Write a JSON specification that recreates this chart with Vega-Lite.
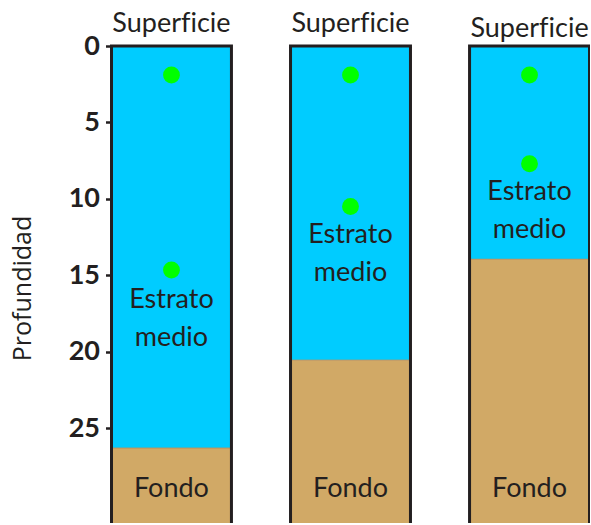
{
  "$schema": "https://vega.github.io/schema/vega-lite/v6.json",
  "width": 478,
  "height": 477,
  "autosize": {"type": "none"},
  "padding": {"left": 111.5, "top": 46, "right": 0, "bottom": 0},
  "background": "white",
  "config": {"view": {"stroke": null}},
  "datasets": {
    "cols": [
      {"col": "1", "surface": 0, "depth": 26.3, "floor": 31.8},
      {"col": "2", "surface": 0, "depth": 20.55, "floor": 31.8},
      {"col": "3", "surface": 0, "depth": 13.95, "floor": 31.8}
    ],
    "dots": [
      {"col": "1", "depth": 1.9},
      {"col": "1", "depth": 14.65},
      {"col": "2", "depth": 1.9},
      {"col": "2", "depth": 10.5},
      {"col": "3", "depth": 1.9},
      {"col": "3", "depth": 7.7}
    ],
    "labels": [
      {"col": "1", "depth": -0.92, "label": "Superf\u200cicie"},
      {"col": "2", "depth": -0.92, "label": "Superf\u200cicie"},
      {"col": "3", "depth": -0.6, "label": "Superf\u200cicie"},
      {"col": "1", "depth": 17.15, "label": "Estrato\nmedio"},
      {"col": "2", "depth": 12.9, "label": "Estrato\nmedio"},
      {"col": "3", "depth": 10.08, "label": "Estrato\nmedio"},
      {"col": "1", "depth": 29.5, "label": "Fondo"},
      {"col": "2", "depth": 29.5, "label": "Fondo"},
      {"col": "3", "depth": 29.5, "label": "Fondo"}
    ]
  },
  "layer": [
    {
      "data": {"name": "cols"},
      "mark": {"type": "bar", "color": "#00CCFF"},
      "encoding": {
        "x": {
          "field": "col",
          "type": "nominal",
          "scale": {"type": "band", "paddingInner": 0.33, "paddingOuter": 0},
          "axis": null
        },
        "y": {
          "field": "surface",
          "type": "quantitative",
          "scale": {"domain": [0, 31.2], "reverse": true, "nice": false, "zero": false},
          "axis": {
            "values": [0, 5, 10, 15, 20, 25],
            "domain": false,
            "grid": false,
            "tickSize": 6,
            "tickWidth": 2.5,
            "tickColor": "#231F20",
            "labelFont": "Lato",
            "labelFontWeight": "bold",
            "labelFontSize": 27,
            "labelColor": "#231F20",
            "labelPadding": 6,
            "title": "Profundidad",
            "titleFont": "Open Sans",
            "titleFontSize": 25,
            "titleFontWeight": "normal",
            "titleColor": "#231F20",
            "titleBaseline": "alphabetic",
            "titleAnchor": "middle",
            "titleX": -81.5,
            "titleY": 242
          }
        },
        "y2": {"field": "depth"}
      }
    },
    {
      "data": {"name": "cols"},
      "mark": {"type": "bar", "color": "#D1A966", "stroke": "#C0905A", "strokeWidth": 1},
      "encoding": {
        "x": {"field": "col", "type": "nominal"},
        "y": {"field": "depth", "type": "quantitative"},
        "y2": {"field": "floor"}
      }
    },
    {
      "data": {"name": "cols"},
      "mark": {"type": "bar", "filled": false, "stroke": "#231F20", "strokeWidth": 3},
      "encoding": {
        "x": {"field": "col", "type": "nominal"},
        "y": {"field": "surface", "type": "quantitative"},
        "y2": {"field": "floor"}
      }
    },
    {
      "data": {"name": "dots"},
      "mark": {"type": "circle", "size": 285, "color": "#00FF00", "opacity": 1},
      "encoding": {
        "x": {"field": "col", "type": "nominal"},
        "y": {"field": "depth", "type": "quantitative"}
      }
    },
    {
      "data": {"name": "labels"},
      "mark": {
        "type": "text",
        "font": "Lato",
        "fontSize": 27,
        "color": "#231F20",
        "align": "center",
        "baseline": "alphabetic",
        "lineBreak": "\n",
        "lineHeight": 38
      },
      "encoding": {
        "x": {"field": "col", "type": "nominal"},
        "y": {"field": "depth", "type": "quantitative"},
        "text": {"field": "label"}
      }
    }
  ]
}
